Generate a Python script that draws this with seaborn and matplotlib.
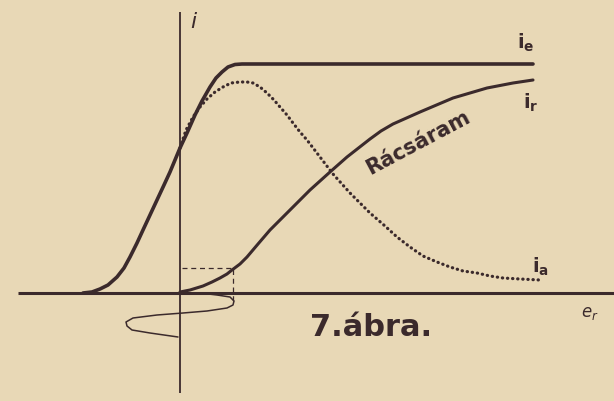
import numpy as np
import pandas as pd
import seaborn as sns
import matplotlib.pyplot as plt


# grid voltage (e) / current (i) readings, arbitrary units
ie_e = [-9.7, -8.8, -8.0, -7.2, -6.3, -5.6, -5.0, -4.3, -3.7, -3.0, -2.3, -1.6, -1.0, -0.5,
        0.0, 0.7, 1.5, 2.2, 3.0, 3.6, 4.2, 4.8, 5.5, 6.2, 20.0, 35.3]
ie_i = [0.0, 0.1, 0.4, 0.8, 1.6, 2.5, 3.6, 5.0, 6.3, 7.8, 9.3, 10.8, 12.1, 13.3,
        14.5, 16.0, 17.8, 19.2, 20.6, 21.5, 22.1, 22.6, 22.85, 22.9, 22.9, 22.9]

ia_e = [0.0, 0.6, 1.3, 2.0, 2.7, 3.5, 4.3, 5.1, 6.0, 6.7, 7.3, 8.0, 8.7, 9.4, 10.0, 10.7,
        11.3, 12.0, 12.7, 14.0, 15.3, 17.0, 19.0, 20.5, 21.7, 23.0, 24.3, 25.7, 27.0,
        28.3, 29.7, 31.0, 32.3, 34.0, 36.0]
ia_i = [14.5, 16.3, 17.6, 18.6, 19.4, 20.1, 20.6, 21.0, 21.1, 21.1, 21.0, 20.6, 20.0, 19.3,
        18.6, 17.8, 17.0, 16.1, 15.3, 13.6, 11.9, 10.0, 8.0, 6.7, 5.6, 4.6, 3.7, 3.1, 2.6,
        2.2, 2.0, 1.7, 1.5, 1.4, 1.3]

ir_e = [0.0, 1.0, 2.3, 3.2, 4.0, 4.7, 5.2, 6.0, 6.7, 7.8, 9.0, 10.0, 11.0, 12.0, 13.0,
        14.0, 15.0, 16.7, 19.0, 20.1, 21.3, 24.0, 27.3, 30.7, 33.3, 35.3]
ir_i = [0.1, 0.3, 0.7, 1.1, 1.5, 1.9, 2.3, 2.9, 3.6, 4.9, 6.3, 7.3, 8.3, 9.3, 10.3,
        11.2, 12.1, 13.6, 15.4, 16.2, 16.9, 18.1, 19.5, 20.5, 21.0, 21.3]

# grid voltage swing drawn below the axis (e vs. time downward)
wave_e = [0.0, 2.0, 3.7, 5.0, 5.4, 5.3, 4.7, 2.7, 0.3, -2.3, -4.7, -5.4, -5.3, -4.8, -3.0, -0.2]
wave_t = [0.0, 0.0, -0.2, -0.4, -0.8, -1.2, -1.5, -1.8, -2.0, -2.2, -2.5, -2.9, -3.3, -3.7, -4.0, -4.4]

# dashed marker: peak of the swing and the grid current there
mark_e = [0.2, 5.3, 5.3]
mark_i = [2.5, 2.5, -0.8]

INK = '#3b2a2c'
PAPER = '#e8d8b6'

sns.set_theme(style="white", rc={'axes.facecolor': PAPER, 'figure.facecolor': PAPER,
                                 'mathtext.fontset': 'dejavusans',
                                 'lines.solid_joinstyle': 'round',
                                 'lines.solid_capstyle': 'round'})

fig = plt.figure(figsize=(6.14, 4.01), dpi=100)
ax = fig.add_axes([0, 0, 1, 1])

# axes of the drawing
ax.hlines(0, -16.2, 43.4, color=INK, lw=2.2)
ax.vlines(0, -10.0, 28.1, color=INK, lw=1.3)

df_e = pd.DataFrame({'e': ie_e, 'i': ie_i})
df_a = pd.DataFrame({'e': ia_e, 'i': ia_i})
df_r = pd.DataFrame({'e': ir_e, 'i': ir_i})
df_w = pd.DataFrame({'e': wave_e, 't': wave_t})

sns.lineplot(data=df_a, x='e', y='i', ax=ax, color=INK, lw=2.3, sort=False, estimator=None)
ax.lines[-1].set_linestyle((0, (0.1, 1.5)))
ax.lines[-1].set_dash_capstyle('round')
sns.lineplot(data=df_e, x='e', y='i', ax=ax, color=INK, lw=2.6, sort=False, estimator=None)
sns.lineplot(data=df_r, x='e', y='i', ax=ax, color=INK, lw=2.2, sort=False, estimator=None)
sns.lineplot(data=df_w, x='e', y='t', ax=ax, color=INK, lw=1.1, sort=False, estimator=None)
ax.plot(mark_e, mark_i, color=INK, lw=0.9, ls=(0, (4, 3)))

ax.set_xlim(-18.0, 43.4)
ax.set_ylim(-10.8, 29.3)
ax.axis('off')

ax.text(33.7, 25.0, r'$\mathbf{i_e}$', color=INK, fontsize=14, ha='left', va='center')
ax.text(34.3, 19.0, r'$\mathbf{i_r}$', color=INK, fontsize=14, ha='left', va='center')
ax.text(35.2, 2.6, r'$\mathbf{i_a}$', color=INK, fontsize=14, ha='left', va='center')
ax.text(1.3, 27.1, 'i', color=INK, fontsize=16, style='italic', ha='center', va='center')
ax.text(41.0, -2.0, r'$e_r$', color=INK, fontsize=12, ha='center', va='center')
ax.text(23.8, 15.0, 'Rácsáram', color=INK, fontsize=15, fontweight='bold', rotation=28,
        ha='center', va='center')
ax.text(19.1, -3.5, '7.ábra.', color=INK, fontsize=22, fontweight='bold', ha='center', va='center')

plt.savefig('out.png', dpi=100, facecolor=PAPER)
